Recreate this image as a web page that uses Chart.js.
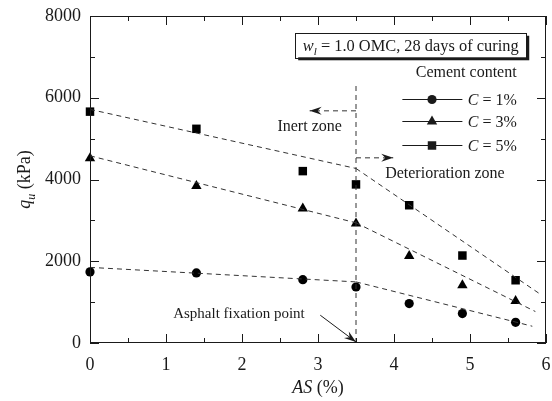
<!DOCTYPE html>
<html>
<head>
<meta charset="utf-8">
<script src="https://cdn.jsdelivr.net/npm/chart.js@4/dist/chart.umd.min.js"></script>
<style>
  html, body { margin: 0; padding: 0; background: #fff; }
  #wrap { position: relative; width: 552px; height: 401px; }
</style>
</head>
<body>
<div id="wrap"><canvas id="chart"></canvas></div>
<script>
// asphalt content AS (%) and measured q_u (kPa) for each cement content
const asContent = [0, 1.4, 2.8, 3.5, 4.2, 4.9, 5.6];
const quC1 = [1740, 1715, 1550, 1370, 965, 720, 505];
const quC3 = [4520, 3840, 3290, 2925, 2130, 1415, 1025];
const quC5 = [5660, 5240, 4205, 3880, 3370, 2140, 1535];

// dashed trend lines: inert zone (0 -> 3.5) and deterioration zone (3.5 -> end)
const inertX = [0, 3.5];
const inertC1 = [1850, 1495];
const inertC3 = [4580, 2940];
const inertC5 = [5715, 4270];
const detX1 = [3.5, 5.82];
const detC1 = [1495, 410];
const detX3 = [3.5, 5.86];
const detC3 = [2940, 770];
const detX5 = [3.5, 5.92];
const detC5 = [4270, 1200];

// asphalt fixation point line and zone arrows
const fixX = [3.5, 3.5];
const fixY = [0, 6360];
const inertArrowX = [3.5, 2.89];
const inertArrowY = [5680, 5680];
const detArrowX = [3.5, 3.99];
const detArrowY = [4530, 4530];

const xTickValues = [0, 1, 2, 3, 4, 5, 6];
const yTickValues = [0, 2000, 4000, 6000, 8000];
const seriesLabels = ['C = 1%', 'C = 3%', 'C = 5%'];

const INK = '#1a1a1a';
const SERIF = '"Liberation Serif", "Times New Roman", serif';

const pts = (xs, ys) => xs.map((x, i) => ({ x: x, y: ys[i] }));

const dashed = (xs, ys) => ({
  type: 'line',
  data: pts(xs, ys),
  showLine: true,
  borderColor: '#333',
  borderWidth: 1,
  borderDash: [5, 4],
  pointRadius: 0,
  clip: false
});

const markers = (label, ys, style, r) => ({
  label: label,
  data: pts(asContent, ys),
  showLine: false,
  pointStyle: style,
  pointRadius: r,
  pointBackgroundColor: '#000',
  pointBorderColor: '#000',
  pointBorderWidth: 0,
  clip: false
});

function drawMarker(ctx, style, x, y, r) {
  ctx.beginPath();
  if (style === 'circle') {
    ctx.arc(x, y, r, 0, Math.PI * 2);
  } else if (style === 'triangle') {
    let a = 0;
    ctx.moveTo(x + Math.sin(a) * r, y - Math.cos(a) * r);
    a += Math.PI * 2 / 3;
    ctx.lineTo(x + Math.sin(a) * r, y - Math.cos(a) * r);
    a += Math.PI * 2 / 3;
    ctx.lineTo(x + Math.sin(a) * r, y - Math.cos(a) * r);
    ctx.closePath();
  } else {
    const s = r * Math.SQRT1_2;
    ctx.rect(x - s, y - s, 2 * s, 2 * s);
  }
  ctx.fill();
}

// barbed arrow head with its tip at (x, y), pointing along angle
function arrowHead(ctx, x, y, angle) {
  ctx.save();
  ctx.translate(x, y);
  ctx.rotate(angle);
  ctx.setLineDash([]);
  ctx.beginPath();
  ctx.moveTo(0, 0);
  ctx.lineTo(-12, -4);
  ctx.lineTo(-8, 0);
  ctx.lineTo(-12, 4);
  ctx.closePath();
  ctx.fill();
  ctx.restore();
}

// text pieces [{t, italic, sub}] drawn left to right
function richText(ctx, parts, x, y, size, align) {
  const fontOf = p => (p.italic ? 'italic ' : '') + (p.sub ? Math.round(size * 0.68) : size) + 'px ' + SERIF;
  let total = 0;
  parts.forEach(p => { ctx.font = fontOf(p); total += ctx.measureText(p.t).width; });
  let cx = align === 'center' ? x - total / 2 : x;
  ctx.textAlign = 'left';
  ctx.textBaseline = 'alphabetic';
  parts.forEach(p => {
    ctx.font = fontOf(p);
    ctx.fillText(p.t, cx, y + (p.sub ? size * 0.25 : 0));
    cx += ctx.measureText(p.t).width;
  });
}

const decorPlugin = {
  id: 'decor',
  afterDraw(chart) {
    const ctx = chart.ctx;
    const xs = chart.scales.x, ys = chart.scales.y;
    const a = chart.chartArea;
    const X = v => xs.getPixelForValue(v);
    const Y = v => ys.getPixelForValue(v);
    ctx.save();
    ctx.strokeStyle = INK;
    ctx.fillStyle = INK;
    ctx.lineWidth = 1;

    // frame
    ctx.strokeRect(a.left + 0.5, a.top + 0.5, a.right - a.left - 1, a.bottom - a.top - 1);

    // inward ticks on all four sides
    ctx.beginPath();
    for (let v = 0; v <= 6.001; v += 0.5) {
      const px = Math.round(X(v)) + 0.5;
      const len = Math.abs(v - Math.round(v)) < 1e-6 ? 9 : 5;
      ctx.moveTo(px, a.bottom); ctx.lineTo(px, a.bottom - len);
      ctx.moveTo(px, a.top); ctx.lineTo(px, a.top + len);
    }
    for (let v = 0; v <= 8000; v += 1000) {
      const py = Math.round(Y(v)) + 0.5;
      const len = v % 2000 === 0 ? 9 : 5;
      ctx.moveTo(a.left, py); ctx.lineTo(a.left + len, py);
      ctx.moveTo(a.right, py); ctx.lineTo(a.right - len, py);
    }
    ctx.stroke();

    // axis titles
    richText(ctx, [{ t: 'AS', italic: true }, { t: ' (%)' }], (a.left + a.right) / 2, 393, 18, 'center');
    ctx.save();
    ctx.translate(30, (a.top + a.bottom) / 2);
    ctx.rotate(-Math.PI / 2);
    richText(ctx, [{ t: 'q', italic: true }, { t: 'u', italic: true, sub: true }, { t: ' (kPa)' }], 0, 0, 18, 'center');
    ctx.restore();

    // boxed condition note with drop shadow
    const bx = X(2.7), by = Y(7590), bw = X(5.74) - bx, bh = Y(6990) - by;
    ctx.fillRect(bx + 3, by + 3, bw, bh);
    ctx.fillStyle = '#fff';
    ctx.fillRect(bx, by, bw, bh);
    ctx.fillStyle = INK;
    ctx.strokeRect(Math.round(bx) + 0.5, Math.round(by) + 0.5, Math.round(bw), Math.round(bh));
    richText(ctx, [{ t: 'w', italic: true }, { t: 'l', italic: true, sub: true }, { t: ' = 1.0 OMC, 28 days of curing' }],
      bx + bw / 2, by + bh / 2 + 5.5, 16.4, 'center');

    // legend
    ctx.font = '16px ' + SERIF;
    ctx.textAlign = 'center';
    ctx.textBaseline = 'middle';
    ctx.fillText('Cement content', X(4.95), Y(6600));
    const styles = ['circle', 'triangle', 'rect'];
    const radii = [4.6, 6, 6];
    const rowY = [5975, 5430, 4840];
    styles.forEach((st, i) => {
      const ry = Math.round(Y(rowY[i])) + 0.5;
      ctx.beginPath();
      ctx.moveTo(X(4.11), ry); ctx.lineTo(X(4.9), ry);
      ctx.stroke();
      drawMarker(ctx, st, X(4.5), ry, radii[i]);
      const lbl = seriesLabels[i].split(' = ');
      richText(ctx, [{ t: lbl[0], italic: true }, { t: ' = ' + lbl[1] }], X(4.97), ry + 5.5, 16, 'left');
    });

    // zone arrows and labels
    arrowHead(ctx, X(inertArrowX[1]), Y(inertArrowY[1]), Math.PI);
    arrowHead(ctx, X(detArrowX[1]), Y(detArrowY[1]), 0);
    ctx.font = '16px ' + SERIF;
    ctx.textAlign = 'center';
    ctx.textBaseline = 'middle';
    ctx.fillText('Inert zone', X(2.89), Y(5280));
    ctx.fillText('Deterioration zone', X(4.67), Y(4130));
    ctx.font = '15px ' + SERIF;
    ctx.fillText('Asphalt fixation point', X(1.96), Y(720));

    // arrow to the fixation point
    const x0 = X(3.03), y0 = Y(680), x1 = X(3.5), y1 = Y(25);
    ctx.beginPath();
    ctx.moveTo(x0, y0); ctx.lineTo(x1, y1);
    ctx.stroke();
    arrowHead(ctx, x1, y1, Math.atan2(y1 - y0, x1 - x0));
    ctx.restore();
  }
};

Chart.defaults.font.family = SERIF;
Chart.defaults.color = INK;

new Chart(document.getElementById('chart'), {
  type: 'scatter',
  data: {
    datasets: [
      dashed(inertX, inertC1), dashed(inertX, inertC3), dashed(inertX, inertC5),
      dashed(detX1, detC1), dashed(detX3, detC3), dashed(detX5, detC5),
      dashed(fixX, fixY),
      dashed(inertArrowX, inertArrowY), dashed(detArrowX, detArrowY),
      markers(seriesLabels[0], quC1, 'circle', 4.6),
      markers(seriesLabels[1], quC3, 'triangle', 6),
      markers(seriesLabels[2], quC5, 'rect', 6)
    ]
  },
  options: {
    responsive: true,
    maintainAspectRatio: false,
    animation: false,
    layout: { padding: { top: 16, right: 6, left: 0, bottom: 0 } },
    plugins: { legend: { display: false }, tooltip: { enabled: false } },
    scales: {
      x: {
        type: 'linear',
        min: 0,
        max: 6,
        afterBuildTicks: s => { s.ticks = xTickValues.map(v => ({ value: v })); },
        ticks: { padding: 11, font: { size: 18 }, color: INK, maxRotation: 0, callback: v => String(v) },
        grid: { display: false, drawTicks: false },
        border: { display: false },
        afterFit: s => { s.height = 58; s.paddingLeft = 0; s.paddingRight = 0; }
      },
      y: {
        min: 0,
        max: 8000,
        afterBuildTicks: s => { s.ticks = yTickValues.map(v => ({ value: v })); },
        ticks: { padding: 9, font: { size: 18 }, color: INK, callback: v => String(v) },
        grid: { display: false, drawTicks: false },
        border: { display: false },
        afterFit: s => { s.width = 90; s.paddingTop = 0; s.paddingBottom = 0; }
      }
    }
  },
  plugins: [decorPlugin]
});
</script>
</body>
</html>
